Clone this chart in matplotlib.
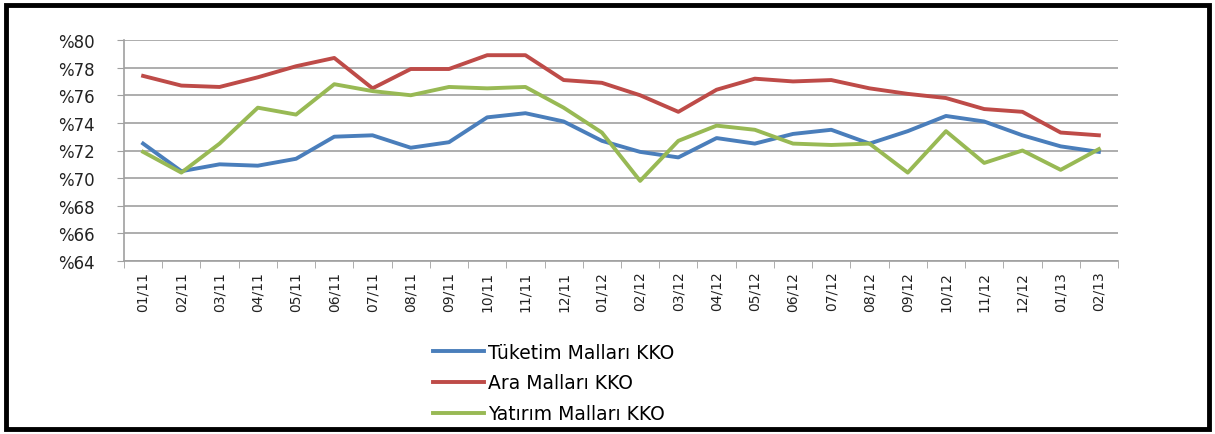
import matplotlib
matplotlib.use("Agg")
import matplotlib.pyplot as plt
from matplotlib.patches import Rectangle

months = ["01/11", "02/11", "03/11", "04/11", "05/11", "06/11", "07/11", "08/11", "09/11",
          "10/11", "11/11", "12/11", "01/12", "02/12", "03/12", "04/12", "05/12", "06/12",
          "07/12", "08/12", "09/12", "10/12", "11/12", "12/12", "01/13", "02/13"]
tuketim = [72.5, 70.5, 71.0, 70.9, 71.4, 73.0, 73.1, 72.2, 72.6, 74.4, 74.7, 74.1, 72.7,
           71.9, 71.5, 72.9, 72.5, 73.2, 73.5, 72.5, 73.4, 74.5, 74.1, 73.1, 72.3, 71.9]
ara = [77.4, 76.7, 76.6, 77.3, 78.1, 78.7, 76.5, 77.9, 77.9, 78.9, 78.9, 77.1, 76.9,
       76.0, 74.8, 76.4, 77.2, 77.0, 77.1, 76.5, 76.1, 75.8, 75.0, 74.8, 73.3, 73.1]
yatirim = [71.9, 70.4, 72.5, 75.1, 74.6, 76.8, 76.3, 76.0, 76.6, 76.5, 76.6, 75.1, 73.3,
           69.8, 72.7, 73.8, 73.5, 72.5, 72.4, 72.5, 70.4, 73.4, 71.1, 72.0, 70.6, 72.1]
series_names = ["Tüketim Malları KKO", "Ara Malları KKO", "Yatırım Malları KKO"]
colors = ["#4A7EBB", "#BE4B48", "#98B954"]
yticks = [64, 66, 68, 70, 72, 74, 76, 78, 80]

fig = plt.figure(figsize=(12.15, 4.35), dpi=100)
ax = fig.add_axes([124 / 1215, 1 - 262 / 435, (1118 - 124) / 1215, (262 - 41) / 435])

x = list(range(len(months)))
for vals, name, c in zip([tuketim, ara, yatirim], series_names, colors):
    ax.plot(x, vals, color=c, lw=2.8, label=name, solid_joinstyle="round")

ax.set_xlim(-0.5, len(months) - 0.5)
ax.set_ylim(64, 80)
ax.set_yticks(yticks)
ax.set_yticklabels([f"%{v}" for v in yticks], fontsize=12, family="DejaVu Sans",
                   color="#222222")
ax.yaxis.grid(True, color="#A0A0A0", lw=1.2)
ax.set_axisbelow(True)

ax.set_xticks(x)
ax.set_xticklabels(months, rotation=90, fontsize=10, family="DejaVu Sans",
                   color="#222222")
ax.set_xticks([i - 0.5 for i in range(len(months) + 1)], minor=True)
ax.tick_params(axis="x", which="major", length=0, pad=7)
ax.tick_params(axis="x", which="minor", length=5, color="#A0A0A0", direction="out")
ax.tick_params(axis="y", length=5, color="#A0A0A0", direction="out", pad=16)

for s in ["top", "right"]:
    ax.spines[s].set_visible(False)
for s in ["left", "bottom"]:
    ax.spines[s].set_color("#A0A0A0")
    ax.spines[s].set_linewidth(1.2)

handles, labels = ax.get_legend_handles_labels()
fig.legend(handles, labels, loc="center left", bbox_to_anchor=(433 / 1215, 1 - 384 / 435),
           frameon=False, ncol=1, borderpad=0, borderaxespad=0, labelspacing=0.62,
           handlelength=2.7, handletextpad=0.25,
           prop={"family": "DejaVu Sans", "size": 13.5})

fig.patches.append(Rectangle((6 / 1215, 5 / 435), 1203 / 1215, 424 / 435,
                             transform=fig.transFigure, fill=False, ec="black", lw=3.5))

fig.savefig("out.png", dpi=100, facecolor="white")
